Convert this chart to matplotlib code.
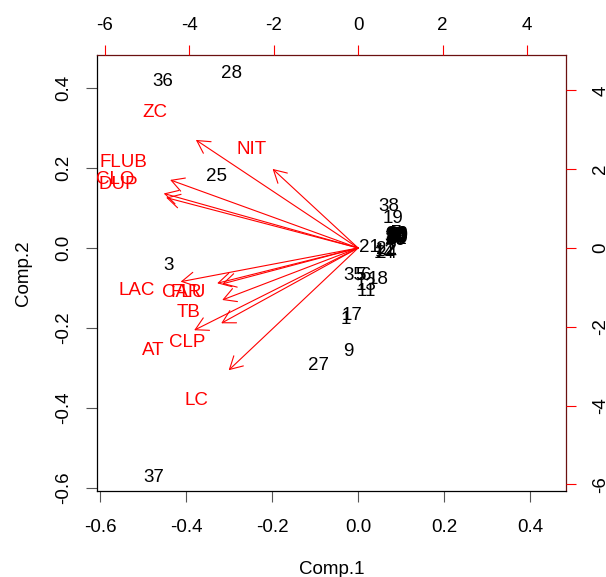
import numpy as np
import matplotlib
matplotlib.use("Agg")
import matplotlib.pyplot as plt

plt.rcParams['font.family'] = ['Liberation Sans', 'DejaVu Sans']
FS = 13.5

# scores (Comp.1 / Comp.2)
obs_labels = ['36', '28', '25', '3', '37', '38', '19', '21', '12', '22', '14', '24',
              '35', '6', '5', '18', '13', '11', '17', '1', '9', '27',
              '2', '4', '7', '10', '15', '16', '20', '23', '26', '29', '30', '31',
              '32', '33', '34', '39', '40', '8']
comp1 = [-0.453, -0.293, -0.330, -0.440, -0.474, 0.072, 0.081, 0.026, 0.063, 0.067, 0.060, 0.067,
         -0.009, 0.019, 0.007, 0.047, 0.019, 0.019, -0.014, -0.028, -0.023, -0.091,
         0.085, 0.092, 0.090, 0.088, 0.086, 0.090, 0.092, 0.087, 0.089, 0.091, 0.088, 0.086,
         0.090, 0.092, 0.087, 0.089, 0.091, 0.093]
comp2 = [0.415, 0.435, 0.178, -0.043, -0.575, 0.103, 0.073, 0.000, -0.010, -0.005, -0.015, -0.013,
         -0.068, -0.068, -0.070, -0.078, -0.093, -0.108, -0.170, -0.180, -0.258, -0.295,
         0.030, 0.022, 0.035, 0.025, 0.032, 0.028, 0.030, 0.020, 0.033, 0.024, 0.030, 0.026,
         0.021, 0.034, 0.028, 0.019, 0.031, 0.027]

# loadings (top / right scale)
var_labels = ['NIT', 'ZC', 'FLUB', 'CLO', 'DUP', 'LAC', 'CAR', 'FLU', 'TB', 'CLP', 'AT', 'LC']
load1 = [-2.53, -4.80, -5.56, -5.75, -5.68, -5.25, -4.17, -4.02, -4.02, -4.05, -4.85, -3.83]
load2 = [2.51, 3.43, 2.16, 1.73, 1.60, -1.07, -1.12, -1.14, -1.65, -2.39, -2.61, -3.88]

bottom_ticks = [-0.6, -0.4, -0.2, 0.0, 0.2, 0.4]
left_ticks = [-0.6, -0.4, -0.2, 0.0, 0.2, 0.4]
top_ticks = [-6, -4, -2, 0, 2, 4]
right_ticks = [-6, -4, -2, 0, 2, 4]

fig = plt.figure(figsize=(6.06, 5.77), dpi=100)
pos = [97 / 606, 1 - 491 / 577, (566 - 97) / 606, (491 - 55) / 577]
ax = fig.add_axes(pos)
ax.set_xlim(-0.607, 0.484)
ax.set_ylim(-0.6075, 0.4825)

for lab, x, y in zip(obs_labels, comp1, comp2):
    ax.text(x, y, lab, ha='center', va='center', fontsize=FS, color='black')

ax.set_xticks(bottom_ticks)
ax.set_xticklabels([f"{t:.1f}" for t in bottom_ticks], fontsize=FS)
ax.set_yticks(left_ticks)
ax.set_yticklabels([f"{t:.1f}" for t in left_ticks], fontsize=FS, rotation=90, va='center')
ax.tick_params(axis='x', length=8, width=0.8, pad=12, color='#555555')
ax.tick_params(axis='y', length=8, width=0.8, pad=10, color='#555555')
ax.set_xlabel('Comp.1', fontsize=FS, labelpad=18)
ax.set_ylabel('Comp.2', fontsize=FS, labelpad=16.5)
for s in ax.spines.values():
    s.set_linewidth(0.9)
ax.spines['top'].set_color('#6b1010')
ax.spines['right'].set_color('#6b1010')

# secondary axes for loadings
ax2 = fig.add_axes(pos, frameon=False)
ax2.set_xlim(-6.18, 4.92)
ax2.set_ylim(-6.17, 4.90)
ax2.xaxis.tick_top()
ax2.yaxis.tick_right()
ax2.set_xticks(top_ticks)
ax2.set_xticklabels([str(t) for t in top_ticks], fontsize=FS)
ax2.set_yticks(right_ticks)
ax2.set_yticklabels([str(t) for t in right_ticks], fontsize=FS, rotation=90, va='center')
ax2.tick_params(axis='x', length=7, width=0.8, pad=8, color='red')
ax2.tick_params(axis='y', length=7, width=0.8, pad=12, color='red')
ax2.patch.set_visible(False)

for lab, u, v in zip(var_labels, load1, load2):
    ax2.annotate('', xy=(0.8 * u, 0.8 * v), xytext=(0, 0),
                 arrowprops=dict(arrowstyle='->,head_length=0.45,head_width=0.25',
                                 color='red', lw=0.8, shrinkA=0, shrinkB=0,
                                 mutation_scale=20))
    ax2.text(u, v, lab, ha='center', va='center', fontsize=FS, color='red')

fig.savefig('out.png', dpi=100)
